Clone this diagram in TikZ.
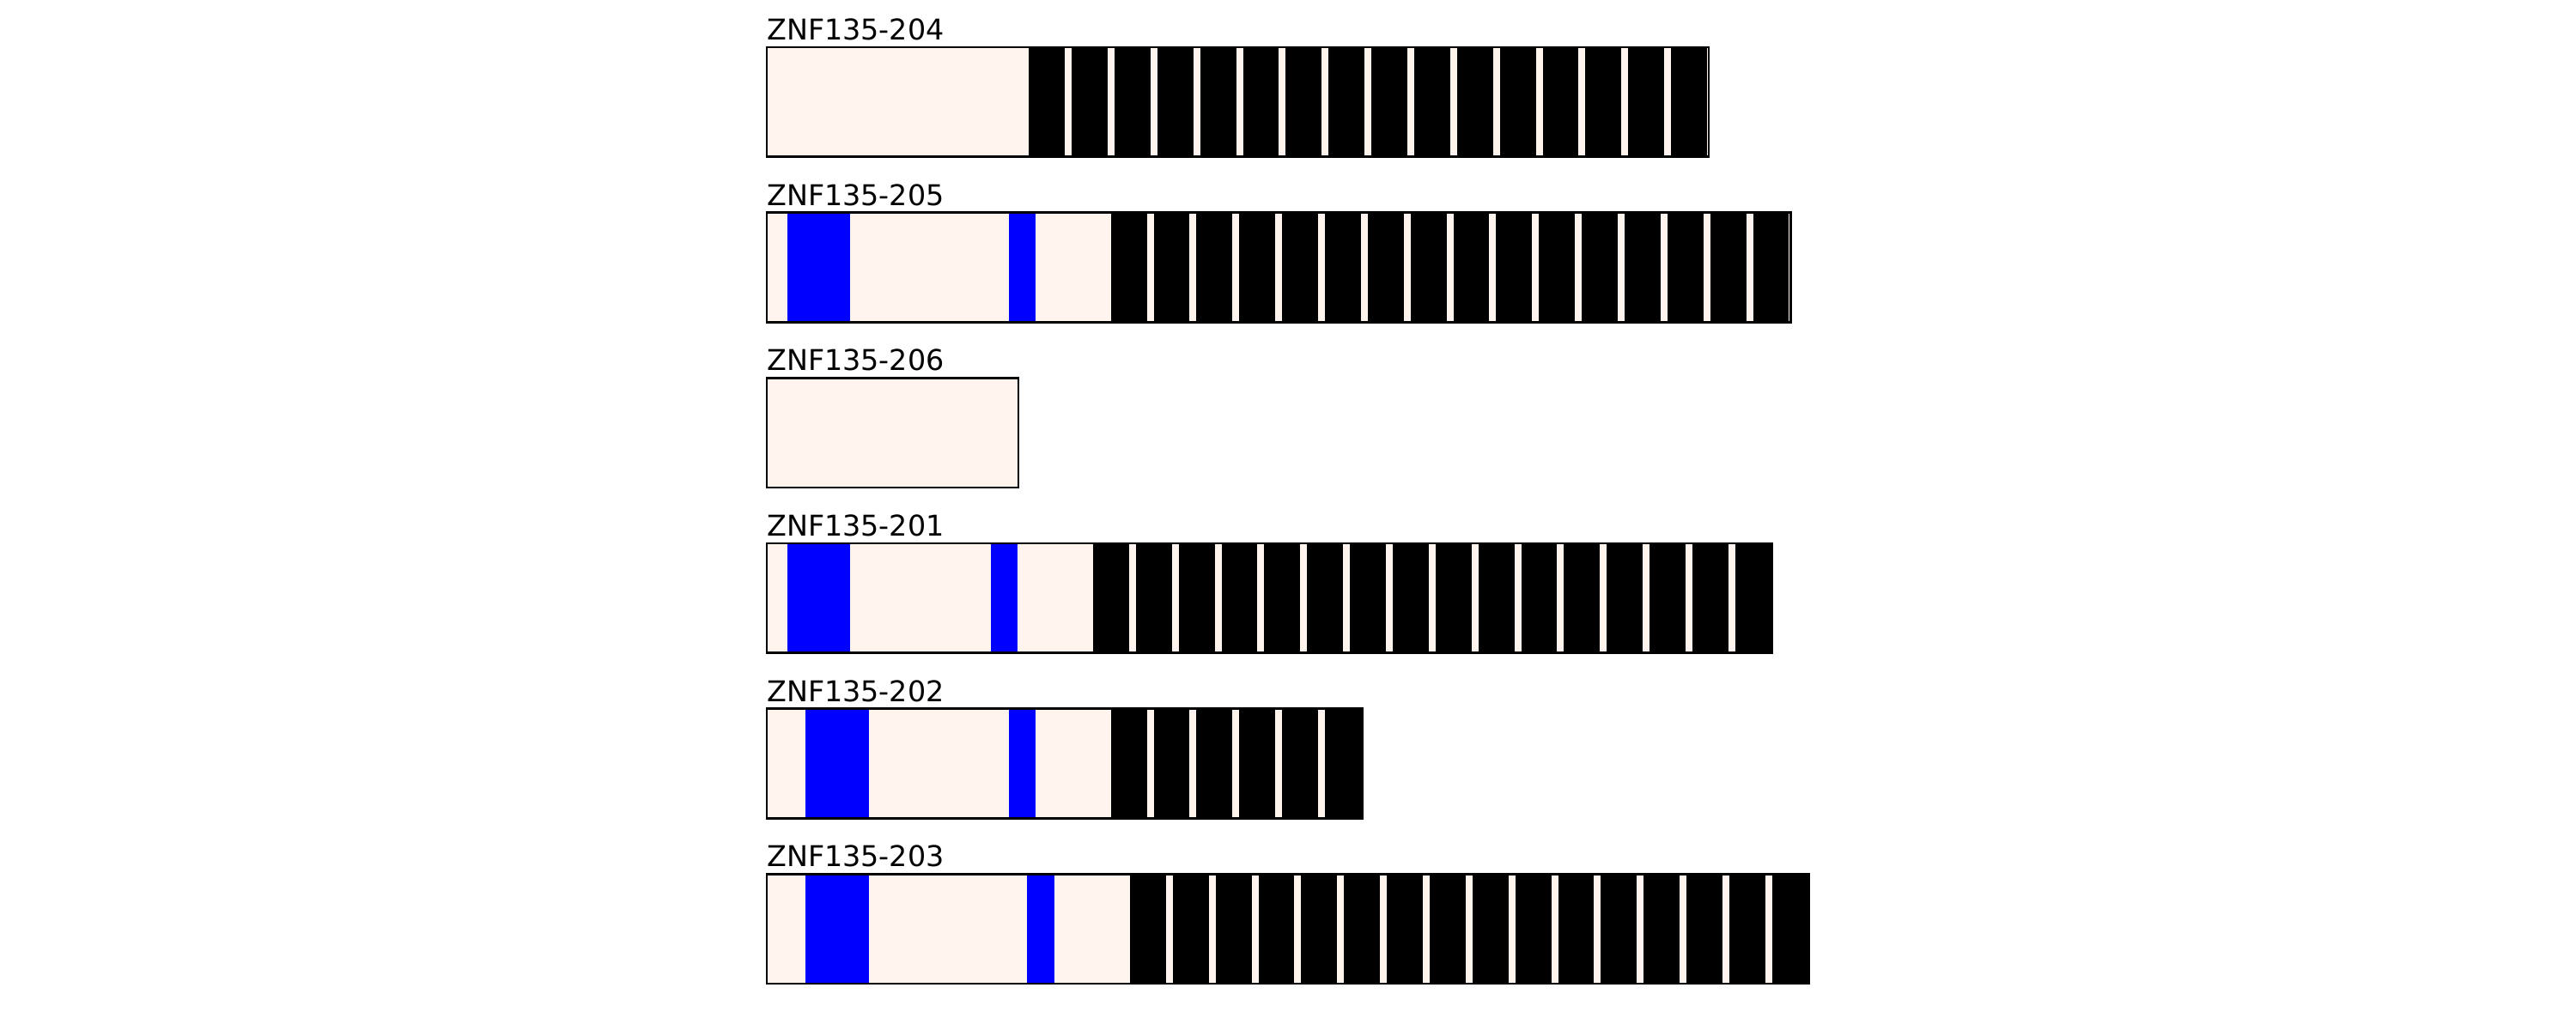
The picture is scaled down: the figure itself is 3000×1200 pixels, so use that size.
\documentclass[tikz,border=0pt]{standalone}
\usepackage{fontspec}
\setmainfont{DejaVu Sans}
\definecolor{shell}{RGB}{255,245,238}
\tikzset{
  lbl/.style={anchor=base west, inner sep=0pt, font=\fontsize{8}{9.6}\selectfont},
  bgbar/.style={fill=shell},
  krab/.style={fill=blue},
  zf/.style={fill=black},
  outline/.style={draw=black, line width=0.65pt},
}
\newcommand\zfp{49.86}
\newcommand\zfw{41.8}
\newcommand\barh{127.7}
\begin{document}
\begin{tikzpicture}[x=0.24pt,y=-0.24pt]
\useasboundingbox (0,0) rectangle (3000,1200);
% ---- ZNF135-204
\def\t{55}
\node[lbl] (l204) at (892.5,\t-8.3) {ZNF135-204};
\fill[bgbar] (893,\t) rectangle (1990,\t+\barh);
\foreach \i in {0,...,15} \fill[zf] ({1198.3+\i*\zfp},\t) rectangle ++(\zfw,\barh);
\draw[outline] (893,\t) rectangle (1990,\t+\barh);
% ---- ZNF135-205
\def\t{247.65}
\node[lbl] (l205) at (892.5,\t-8.3) {ZNF135-205};
\fill[bgbar] (893,\t) rectangle (2085.5,\t+\barh);
\fill[krab] (916.7,\t) rectangle (990,\t+\barh);
\fill[krab] (1175,\t) rectangle (1206,\t+\barh);
\foreach \i in {0,...,15} \fill[zf] ({1293.7+\i*\zfp},\t) rectangle ++(\zfw,\barh);
\draw[outline] (893,\t) rectangle (2085.5,\t+\barh);
% ---- ZNF135-206
\def\t{440.3}
\node[lbl] (l206) at (892.5,\t-8.3) {ZNF135-206};
\fill[bgbar] (893,\t) rectangle (1186,\t+\barh);
\draw[outline] (893,\t) rectangle (1186,\t+\barh);
% ---- ZNF135-201
\def\t{632.95}
\node[lbl] (l201) at (892.5,\t-8.3) {ZNF135-201};
\fill[bgbar] (893,\t) rectangle (2064,\t+\barh);
\fill[krab] (916.7,\t) rectangle (990,\t+\barh);
\fill[krab] (1154.2,\t) rectangle (1185.3,\t+\barh);
\foreach \i in {0,...,15} \fill[zf] ({1273+\i*\zfp},\t) rectangle ++(\zfw,\barh);
\draw[outline] (893,\t) rectangle (2064,\t+\barh);
% ---- ZNF135-202
\def\t{825.6}
\node[lbl] (l202) at (892.5,\t-8.3) {ZNF135-202};
\fill[bgbar] (893,\t) rectangle (1586.5,\t+\barh);
\fill[krab] (938.2,\t) rectangle (1011.5,\t+\barh);
\fill[krab] (1175,\t) rectangle (1206,\t+\barh);
\foreach \i in {0,...,5} \fill[zf] ({1293.7+\i*\zfp},\t) rectangle ++(\zfw,\barh);
\draw[outline] (893,\t) rectangle (1586.5,\t+\barh);
% ---- ZNF135-203
\def\t{1018.25}
\node[lbl] (l203) at (892.5,\t-8.3) {ZNF135-203};
\fill[bgbar] (893,\t) rectangle (2107,\t+\barh);
\fill[krab] (938.2,\t) rectangle (1011.5,\t+\barh);
\fill[krab] (1195.7,\t) rectangle (1228.4,\t+\barh);
\foreach \i in {0,...,15} \fill[zf] ({1316+\i*\zfp},\t) rectangle ++(\zfw,\barh);
\draw[outline] (893,\t) rectangle (2107,\t+\barh);
\end{tikzpicture}
\end{document}
